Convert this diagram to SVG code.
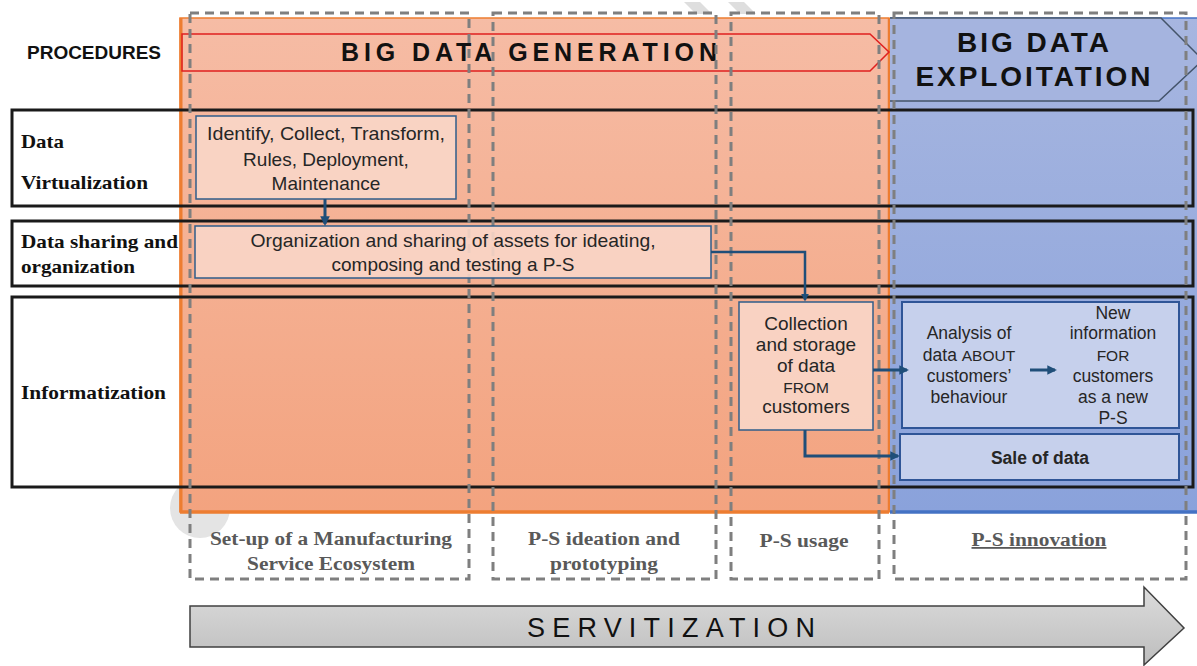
<svg xmlns="http://www.w3.org/2000/svg" width="1197" height="666" viewBox="0 0 1197 666">
<style>
.lbl{font-family:"Liberation Serif",serif;font-weight:bold;font-size:19px;fill:#111}
.bt{font-family:"Liberation Sans",Arial,sans-serif;font-size:19px;fill:#262626;text-anchor:middle}
.bt2{font-family:"Liberation Sans",Arial,sans-serif;font-size:17.5px;fill:#262626;text-anchor:middle}
.sm{font-size:15.5px}
.ph{font-family:"Liberation Serif",serif;font-weight:bold;font-size:18px;fill:#595959;text-anchor:middle}
.row{fill:none;stroke:#1a1a1a;stroke-width:3}
.col{fill:none;stroke:#7f7f7f;stroke-width:3;stroke-dasharray:9 6}
.pbox{fill:#fad6c8;fill-opacity:0.9;stroke:#2f5d8a;stroke-width:1.5}
.bbox{fill:#c6d0ec;stroke:#2f5597;stroke-width:2}
.con{fill:none;stroke:#1f4e79;stroke-width:3}
.big{font-family:"Liberation Sans",Arial,sans-serif;font-weight:bold;fill:#111;text-anchor:middle}
</style>
<defs>
<linearGradient id="og" x1="0" y1="0" x2="0" y2="1"><stop offset="0" stop-color="#f6bca5"/><stop offset="1" stop-color="#f3a37f"/></linearGradient>
<linearGradient id="bg" x1="0" y1="0" x2="0" y2="1"><stop offset="0" stop-color="#a7b6e0"/><stop offset="1" stop-color="#8aa2db"/></linearGradient>
<linearGradient id="gg" x1="0" y1="0" x2="0" y2="1"><stop offset="0" stop-color="#dcdcdc"/><stop offset="1" stop-color="#bdbdbd"/></linearGradient>
<marker id="ah" viewBox="0 0 10 10" refX="8" refY="5" markerWidth="3.2" markerHeight="3.2" orient="auto"><path d="M0,0 L10,5 L0,10 z" fill="#1f4e79"/></marker>
</defs>
<rect width="1197" height="666" fill="#fff"/>
<!-- faint artefacts -->
<g fill="#dedede">
<path d="M684,2 L700,2 L712,14 L696,14 z"/>
<path d="M728,2 L744,2 L756,14 L740,14 z"/>
</g>
<!-- row label backgrounds -->
<g fill="#fff">
<rect x="12" y="110" width="1181" height="96"/>
<rect x="12" y="221" width="1181" height="65"/>
<rect x="12" y="297" width="1181" height="190"/>
</g>
<circle cx="200" cy="508" r="30" fill="#e4e4e4"/>
<!-- phases -->
<g id="generation">
<rect x="180" y="18" width="709" height="494" fill="url(#og)"/>
<path d="M180,512 L180,18 L889,18 L889,512 z" fill="none" stroke="#ed7d31" stroke-width="1.5"/>
<line x1="181" y1="18" x2="181" y2="512" stroke="#ed7d31" stroke-width="3"/>
<line x1="180" y1="512" x2="889" y2="512" stroke="#ed7d31" stroke-width="3.5"/>
<line x1="889" y1="18" x2="889" y2="512" stroke="#ed7d31" stroke-width="2.5"/>
<path d="M182,34 L870,34 L889,52 L870,71 L182,71 z" fill="none" stroke="#e0201f" stroke-width="1.5"/>
<text class="big" x="529" y="61" font-size="25" textLength="376" lengthAdjust="spacing">BIG DATA GENERATION</text>
</g>
<g id="exploitation">
<rect x="890" y="18" width="307" height="494" fill="url(#bg)"/>
<line x1="890" y1="18" x2="1197" y2="18" stroke="#4472c4" stroke-width="1.5"/>
<line x1="890" y1="512" x2="1197" y2="512" stroke="#4472c4" stroke-width="3.5"/>
<path d="M890,18 L1161,18 L1203,60 L1159,101 L890,101" fill="#a5b4df" stroke="#44546a" stroke-width="1.5"/>
<text class="big" x="1033" y="52" font-size="28" textLength="152" lengthAdjust="spacing">BIG DATA</text>
<text class="big" x="1033" y="86" font-size="28" textLength="235" lengthAdjust="spacing">EXPLOITATION</text>
</g>
<!-- rows -->
<g id="procedures"><text x="27" y="59" font-family="'Liberation Sans',Arial,sans-serif" font-weight="bold" font-size="19" fill="#111" textLength="134" lengthAdjust="spacingAndGlyphs">PROCEDURES</text></g>
<g id="row-virtualization">
<rect class="row" x="12" y="110" width="1181" height="96"/>
<text class="lbl" x="21" y="148" textLength="43" lengthAdjust="spacingAndGlyphs">Data</text>
<text class="lbl" x="21" y="189" textLength="127" lengthAdjust="spacingAndGlyphs">Virtualization</text>
</g>
<g id="row-sharing">
<rect class="row" x="12" y="221" width="1181" height="65"/>
<text class="lbl" x="21" y="248" textLength="157" lengthAdjust="spacingAndGlyphs">Data sharing and</text>
<text class="lbl" x="21" y="273" textLength="114" lengthAdjust="spacingAndGlyphs">organization</text>
</g>
<g id="row-informatization">
<rect class="row" x="12" y="297" width="1181" height="190"/>
<text class="lbl" x="21" y="399" textLength="145" lengthAdjust="spacingAndGlyphs">Informatization</text>
</g>
<!-- stage columns -->
<g id="stage-setup">
<rect class="col" x="190" y="13" width="279" height="566"/>
<text class="ph" x="331" y="545" textLength="242" lengthAdjust="spacingAndGlyphs">Set-up of a Manufacturing</text>
<text class="ph" x="331" y="570" textLength="168" lengthAdjust="spacingAndGlyphs">Service Ecosystem</text>
</g>
<g id="stage-ideation">
<rect class="col" x="493" y="13" width="223" height="566"/>
<text class="ph" x="604" y="545" textLength="152" lengthAdjust="spacingAndGlyphs">P-S ideation and</text>
<text class="ph" x="604" y="570" textLength="108" lengthAdjust="spacingAndGlyphs">prototyping</text>
</g>
<g id="stage-usage">
<rect class="col" x="731" y="13" width="148" height="566"/>
<text class="ph" x="804" y="547" textLength="89" lengthAdjust="spacingAndGlyphs">P-S usage</text>
</g>
<g id="stage-innovation">
<rect class="col" x="894" y="13" width="292" height="566"/>
<text class="ph" x="1039" y="546" textLength="135" lengthAdjust="spacingAndGlyphs" text-decoration="underline">P-S innovation</text>
</g>
<!-- activity boxes -->
<g id="identify">
<rect class="pbox" x="196" y="116" width="260" height="83"/>
<text class="bt" x="326" y="140" textLength="238" lengthAdjust="spacingAndGlyphs">Identify, Collect, Transform,</text>
<text class="bt" x="326" y="166">Rules, Deployment,</text>
<text class="bt" x="326" y="190">Maintenance</text>
</g>
<g id="organization">
<rect class="pbox" x="195" y="226" width="516" height="52"/>
<text class="bt" x="453" y="247" textLength="405" lengthAdjust="spacingAndGlyphs">Organization and sharing of assets for ideating,</text>
<text class="bt" x="453" y="271">composing and testing a P-S</text>
</g>
<g id="collection">
<rect class="pbox" x="739" y="302" width="134" height="128"/>
<text class="bt" x="806" y="330">Collection</text>
<text class="bt" x="806" y="351">and storage</text>
<text class="bt" x="806" y="372">of data</text>
<text class="bt sm" x="806" y="393">FROM</text>
<text class="bt" x="806" y="413">customers</text>
</g>
<g id="analysis">
<rect class="bbox" x="902" y="302" width="277" height="126"/>
<text class="bt2" x="969" y="339">Analysis of</text>
<text class="bt2" x="969" y="361">data <tspan class="sm">ABOUT</tspan></text>
<text class="bt2" x="969" y="382">customers’</text>
<text class="bt2" x="969" y="403">behaviour</text>
<text class="bt2" x="1113" y="319">New</text>
<text class="bt2" x="1113" y="339">information</text>
<text class="bt2 sm" x="1113" y="361">FOR</text>
<text class="bt2" x="1113" y="382">customers</text>
<text class="bt2" x="1113" y="403">as a new</text>
<text class="bt2" x="1113" y="424">P-S</text>
</g>
<g id="sale">
<rect class="bbox" x="900" y="434" width="279" height="46"/>
<text class="bt2" x="1040" y="464" font-weight="bold" fill="#111">Sale of data</text>
</g>
<!-- connectors -->
<g id="connectors">
<path class="con" d="M325,199 L325,224" marker-end="url(#ah)"/>
<path d="M711,252 L805,252 L805,300" fill="none" stroke="#1f4e79" stroke-width="2.5" marker-end="url(#ah)"/>
<path class="con" d="M873,370 L907,370" marker-end="url(#ah)"/>
<path class="con" d="M1030,370 L1055,370" marker-end="url(#ah)"/>
<path class="con" d="M805,430 L805,456 L898,456" marker-end="url(#ah)"/>
</g>
<!-- servitization -->
<g id="servitization">
<path d="M190,606 L1144,606 L1144,587 L1184,628 L1144,665 L1144,647 L190,647 z" fill="url(#gg)" stroke="#404040" stroke-width="1.5"/>
<text x="671" y="637" font-family="'Liberation Sans',Arial,sans-serif" font-size="27" fill="#111" text-anchor="middle" textLength="288" lengthAdjust="spacing">SERVITIZATION</text>
</g>
</svg>
